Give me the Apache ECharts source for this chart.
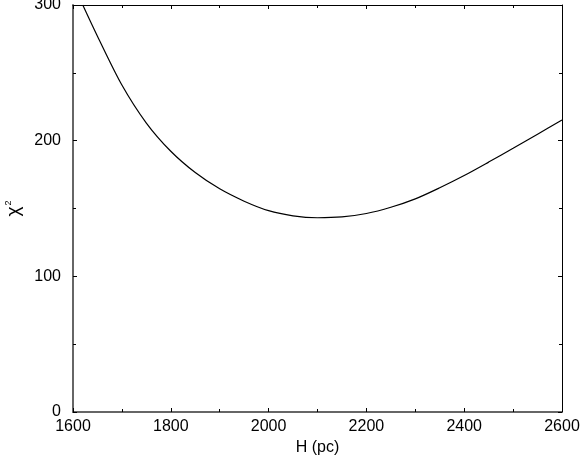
<!DOCTYPE html>
<html>
<head>
<meta charset="utf-8">
<script src="https://cdn.jsdelivr.net/npm/echarts@6/dist/echarts.min.js"></script>
<style>html,body{margin:0;padding:0;background:#fff;}#c{width:581px;height:460px;}</style>
</head>
<body>
<div id="c"></div>
<script>
const hValues = [1620, 1650, 1700, 1750, 1800, 1850, 1900, 1950, 2000, 2050, 2100, 2150, 2200, 2250, 2300, 2350, 2400, 2450, 2500, 2550, 2600];
const chi2Values = [300, 277, 241, 213, 192.2, 176.5, 164.5, 155.4, 148.4, 144.6, 143.2, 143.8, 146.3, 150.9, 157.1, 165.3, 174.3, 184.2, 194.4, 204.8, 215.2];
const xTicks = [1600, 1800, 2000, 2200, 2400, 2600];
const yTicks = [0, 100, 200, 300];

const font = 'Liberation Sans, Arial, Helvetica, sans-serif';
const chart = echarts.init(document.getElementById('c'), null, {renderer: 'canvas'});
const pts = hValues.map((h, i) => [h, chi2Values[i]]);
const plain = v => String(v);

const baseX = {
  type: 'value', min: xTicks[0], max: xTicks[xTicks.length - 1], interval: 200,
  splitLine: {show: false},
  minorTick: {show: true, splitNumber: 2, length: 3, lineStyle: {color: '#000'}},
  axisTick: {show: true, inside: true, length: 4, lineStyle: {color: '#000'}}
};
const baseY = {
  type: 'value', min: yTicks[0], max: yTicks[yTicks.length - 1], interval: 100,
  splitLine: {show: false},
  minorTick: {show: true, splitNumber: 2, length: 3, lineStyle: {color: '#000'}},
  axisTick: {show: true, inside: true, length: 4, lineStyle: {color: '#000'}}
};

chart.setOption({
  animation: false,
  backgroundColor: '#fff',
  grid: {left: 73, right: 19, top: 5, bottom: 48, containLabel: false, outerBoundsMode: 'none'},
  xAxis: [
    Object.assign({}, baseX, {
      position: 'bottom',
      axisLine: {show: true, onZero: false, lineStyle: {color: '#666', width: 2}},
      axisLabel: {margin: 7, fontSize: 16, color: '#000', fontFamily: font, formatter: plain},
      name: 'H (pc)', nameLocation: 'middle', nameGap: 27,
      nameTextStyle: {color: '#000', fontFamily: font, fontSize: 16}
    }),
    Object.assign({}, baseX, {
      position: 'top',
      axisLine: {show: true, onZero: false, lineStyle: {color: '#000', width: 1}},
      axisLabel: {show: false}
    })
  ],
  yAxis: [
    Object.assign({}, baseY, {
      position: 'left',
      axisLine: {show: true, onZero: false, lineStyle: {color: '#666', width: 2}},
      axisLabel: {margin: 12, fontSize: 16, color: '#000', fontFamily: font, formatter: plain},
      name: '{c|χ}{s|2}', nameLocation: 'middle', nameGap: 50, nameRotate: 90,
      nameTextStyle: {color: '#000', fontFamily: font,
        rich: {c: {fontSize: 19, fontFamily: font, color: '#000'},
               s: {fontSize: 9, fontFamily: font, color: '#000', verticalAlign: 'top', padding: [0, 0, 10, 1]}}}
    }),
    Object.assign({}, baseY, {
      position: 'right',
      axisLine: {show: true, onZero: false, lineStyle: {color: '#000', width: 1}},
      axisLabel: {show: false}
    })
  ],
  series: [{
    type: 'line', data: pts, smooth: 0.3, showSymbol: false,
    lineStyle: {color: '#000', width: 1.2}, xAxisIndex: 0, yAxisIndex: 0
  }]
});
</script>
</body>
</html>
